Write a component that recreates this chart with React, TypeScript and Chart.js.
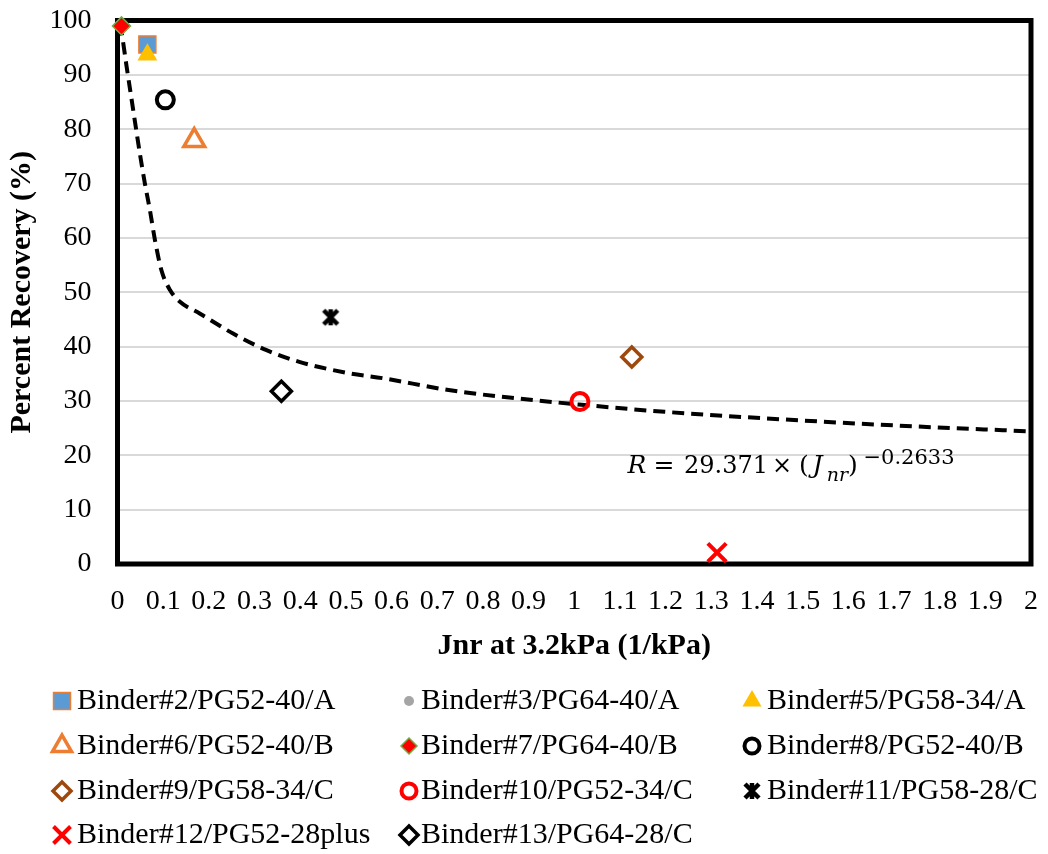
import { useEffect, useRef } from 'react';
import { Chart, registerables } from 'chart.js';
import { drawPoint } from 'chart.js/helpers';

Chart.register(...registerables);

// ---------- data ----------
const binderLabels = [
  'Binder#2/PG52-40/A',
  'Binder#3/PG64-40/A',
  'Binder#5/PG58-34/A',
  'Binder#6/PG52-40/B',
  'Binder#7/PG64-40/B',
  'Binder#8/PG52-40/B',
  'Binder#9/PG58-34/C',
  'Binder#10/PG52-34/C',
  'Binder#11/PG58-28/C',
  'Binder#12/PG52-28plus',
  'Binder#13/PG64-28/C',
];
const jnrValues = [0.0654, 0.0654, 0.0654, 0.168, 0.0087, 0.1047, 1.126, 1.0124, 0.4667, 1.3126, 0.3588];
const recoveryValues = [95.6, 95.6, 93.7, 77.9, 99.0, 85.4, 38.1, 29.9, 45.4, 2.1, 31.8];

// power trendline as drawn in the picture
const trendJnr = [0.0055, 0.0092, 0.02, 0.031, 0.042, 0.049, 0.06, 0.071, 0.082, 0.096, 0.115, 0.136, 0.18, 0.253, 0.325, 0.398, 0.507, 0.58, 0.725, 0.871, 1.016, 1.198, 1.5, 1.75, 2.0];
const trendRecovery = [99.4, 97.7, 91.5, 85.4, 79.3, 75.5, 70.0, 65.1, 59.6, 54.1, 50.4, 48.3, 46.1, 42.4, 39.4, 37.2, 35.1, 34.2, 32.0, 30.5, 29.3, 28.0, 26.4, 25.3, 24.4];

const xMin = 0;
const xMax = 2;
const xStep = 0.1;
const yMin = 0;
const yMax = 100;
const yStep = 10;

const xTitle = 'Jnr at 3.2kPa (1/kPa)';
const yTitle = 'Percent Recovery (%)';

// ---------- styles ----------
const FONT = "'Liberation Serif', 'Times New Roman', serif";
const EQ_FONT = "'DejaVu Serif', 'Liberation Serif', serif";

type MarkerStyle = {
  pointStyle: any;
  radius: number;
  legendRadius: number;
  bg: string;
  border: string;
  borderWidth: number;
  order: number;
};

function makeStarImage(): HTMLCanvasElement {
  const c = document.createElement('canvas');
  c.width = 20;
  c.height = 20;
  const g = c.getContext('2d')!;
  g.strokeStyle = '#000000';
  g.lineWidth = 4.5;
  g.beginPath();
  g.moveTo(3, 3);
  g.lineTo(17, 17);
  g.moveTo(17, 3);
  g.lineTo(3, 17);
  g.moveTo(10, 2);
  g.lineTo(10, 18);
  g.stroke();
  return c;
}

const CLEAR = 'rgba(255,255,255,0)';

function makeStyles(star: HTMLCanvasElement): MarkerStyle[] {
  return [
    { pointStyle: 'rect', radius: 12, legendRadius: 12, bg: '#5B9BD5', border: '#ED7D31', borderWidth: 1.5, order: 4 },
    { pointStyle: 'circle', radius: 5, legendRadius: 5, bg: '#A5A5A5', border: '#A5A5A5', borderWidth: 0, order: 5 },
    { pointStyle: 'triangle', radius: 11.5, legendRadius: 11, bg: '#FFC000', border: '#FFC000', borderWidth: 0, order: 3 },
    { pointStyle: 'triangle', radius: 12, legendRadius: 11, bg: CLEAR, border: '#ED7D31', borderWidth: 3.5, order: 0 },
    { pointStyle: 'rectRot', radius: 9, legendRadius: 8, bg: '#FF0000', border: '#70AD47', borderWidth: 1.5, order: 0 },
    { pointStyle: 'circle', radius: 8.5, legendRadius: 7.5, bg: CLEAR, border: '#000000', borderWidth: 4, order: 0 },
    { pointStyle: 'rectRot', radius: 10, legendRadius: 9, bg: CLEAR, border: '#9E480E', borderWidth: 3.5, order: 0 },
    { pointStyle: 'circle', radius: 8.5, legendRadius: 7.5, bg: CLEAR, border: '#FF0000', borderWidth: 4, order: 0 },
    { pointStyle: star, radius: 9, legendRadius: 9, bg: '#000000', border: '#000000', borderWidth: 0, order: 0 },
    { pointStyle: 'crossRot', radius: 13, legendRadius: 12, bg: '#FF0000', border: '#FF0000', borderWidth: 4, order: 0 },
    { pointStyle: 'rectRot', radius: 10, legendRadius: 9, bg: CLEAR, border: '#000000', borderWidth: 3.5, order: 0 },
  ];
}

const LEGEND_MARKER_X = [62, 409, 752];
const LEGEND_TEXT_X = [77, 421, 767];
const LEGEND_ROW_Y = [701, 746, 791, 835];

export default function App() {
  const canvasRef = useRef<HTMLCanvasElement | null>(null);

  useEffect(() => {
    const canvas = canvasRef.current;
    if (!canvas) return;
    const star = makeStarImage();
    const styles = makeStyles(star);

    const pointDatasets = binderLabels.map((label, i) => ({
      label,
      data: [{ x: jnrValues[i], y: recoveryValues[i] }],
      showLine: false,
      pointStyle: styles[i].pointStyle,
      pointRadius: styles[i].radius,
      pointHoverRadius: styles[i].radius,
      pointBackgroundColor: styles[i].bg,
      pointBorderColor: styles[i].border,
      pointBorderWidth: styles[i].borderWidth,
      backgroundColor: styles[i].bg,
      borderColor: styles[i].border,
      order: styles[i].order,
      clip: false as any,
    }));

    const trendDataset = {
      label: 'Power trendline',
      data: trendJnr.map((x, i) => ({ x, y: trendRecovery[i] })),
      showLine: true,
      borderColor: '#000000',
      borderWidth: 4,
      borderDash: [12, 7],
      pointRadius: 0,
      pointHoverRadius: 0,
      cubicInterpolationMode: 'monotone' as const,
      order: 10,
      clip: false as any,
    };

    const boxPlugin = {
      id: 'plotBox',
      beforeDatasetsDraw(chart: any) {
        const { ctx, chartArea } = chart;
        ctx.save();
        ctx.strokeStyle = '#000000';
        ctx.lineWidth = 5;
        ctx.strokeRect(chartArea.left, chartArea.top, chartArea.right - chartArea.left, chartArea.bottom - chartArea.top);
        ctx.restore();
      },
    };

    const equationPlugin = {
      id: 'equation',
      afterDatasetsDraw(chart: any) {
        const { ctx, chartArea } = chart;
        // anchor: left edge of the equation relative to the plot box
        const x0 = chartArea.left + 511.5;
        const base = chartArea.top + 452.5;
        const pieces: { cx: number; text: string; font: string; dy: number }[] = [
          { cx: 8, text: 'R', font: `italic 25px ${EQ_FONT}`, dy: 0 },
          { cx: 35, text: '=', font: `25px ${EQ_FONT}`, dy: 0 },
          { cx: 97, text: '29.371', font: `24px ${EQ_FONT}`, dy: 0 },
          { cx: 153, text: '×', font: `24px ${EQ_FONT}`, dy: 0 },
          { cx: 175, text: '(', font: `25px ${EQ_FONT}`, dy: 0 },
          { cx: 188.5, text: 'J', font: `italic 25px ${EQ_FONT}`, dy: 0 },
          { cx: 208.5, text: 'nr', font: `italic 19px ${EQ_FONT}`, dy: 8 },
          { cx: 224, text: ')', font: `25px ${EQ_FONT}`, dy: 0 },
          { cx: 280, text: '−0.2633', font: `21px ${EQ_FONT}`, dy: -9 },
        ];
        ctx.save();
        ctx.fillStyle = '#000000';
        ctx.textAlign = 'center';
        ctx.textBaseline = 'alphabetic';
        for (const p of pieces) {
          ctx.font = p.font;
          ctx.fillText(p.text, x0 + p.cx, base + p.dy);
        }
        ctx.restore();
      },
    };

    const legendPlugin = {
      id: 'gridLegend',
      afterDraw(chart: any) {
        const ctx = chart.ctx;
        ctx.save();
        binderLabels.forEach((label, i) => {
          const col = i % 3;
          const row = Math.floor(i / 3);
          const st = styles[i];
          const mx = LEGEND_MARKER_X[col];
          const my = LEGEND_ROW_Y[row];
          ctx.fillStyle = st.bg === CLEAR ? '#FFFFFF' : st.bg;
          ctx.strokeStyle = st.border;
          ctx.lineWidth = st.borderWidth;
          drawPoint(ctx, { pointStyle: st.pointStyle, radius: st.legendRadius, borderWidth: st.borderWidth, rotation: 0 } as any, mx, my);
          ctx.fillStyle = '#000000';
          ctx.font = `30px ${FONT}`;
          ctx.textAlign = 'left';
          ctx.textBaseline = 'middle';
          ctx.fillText(label, LEGEND_TEXT_X[col], my);
        });
        ctx.restore();
      },
    };

    const chart = new Chart(canvas, {
      type: 'scatter',
      data: { datasets: [...pointDatasets, trendDataset] as any },
      options: {
        responsive: false,
        animation: false,
        events: [],
        layout: { padding: { left: 0, right: 13.5, top: 20.5, bottom: 185 } },
        plugins: {
          legend: { display: false },
          tooltip: { enabled: false },
        },
        scales: {
          x: {
            type: 'linear',
            min: xMin,
            max: xMax,
            afterFit(scale: any) {
              scale.height = 105;
              scale.paddingLeft = 0;
              scale.paddingRight = 0;
            },
            ticks: {
              stepSize: xStep,
              autoSkip: false,
              maxRotation: 0,
              minRotation: 0,
              padding: 21,
              color: '#000000',
              font: { family: FONT, size: 28 },
              callback: (v: any) => String(Math.round(Number(v) * 10) / 10),
            },
            grid: { display: false, drawTicks: false },
            border: { display: false },
            title: {
              display: true,
              text: xTitle,
              color: '#000000',
              font: { family: FONT, size: 30, weight: 'bold' },
              padding: { top: 0, bottom: 5 },
            },
          },
          y: {
            type: 'linear',
            min: yMin,
            max: yMax,
            afterFit(scale: any) {
              scale.width = 117.5;
              scale.paddingTop = 0;
              scale.paddingBottom = 0;
            },
            ticks: {
              stepSize: yStep,
              padding: 26,
              color: '#000000',
              font: { family: FONT, size: 28 },
            },
            grid: { color: '#D9D9D9', lineWidth: 2, drawTicks: false },
            border: { display: false },
            title: {
              display: true,
              text: yTitle,
              color: '#000000',
              font: { family: FONT, size: 30, weight: 'bold' },
              padding: { top: 4, bottom: 0 },
            },
          },
        },
      },
      plugins: [boxPlugin, equationPlugin, legendPlugin],
    });

    return () => {
      chart.destroy();
    };
  }, []);

  return (
    <div style={{ position: 'absolute', left: 0, top: 0, width: 1048, height: 854, background: '#FFFFFF' }}>
      <canvas ref={canvasRef} width={1048} height={854} style={{ display: 'block' }} />
    </div>
  );
}
